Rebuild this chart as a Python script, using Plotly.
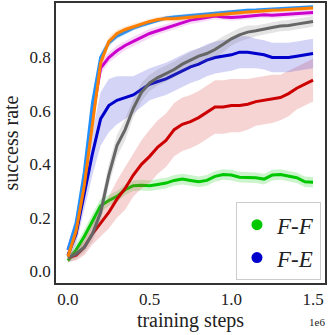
import plotly.graph_objects as go

# training steps (in millions)
steps = [0.0, 0.05, 0.1, 0.15, 0.2, 0.25, 0.3, 0.35, 0.4, 0.45, 0.5, 0.55, 0.6, 0.65, 0.7, 0.75,
         0.8, 0.85, 0.9, 0.95, 1.0, 1.05, 1.1, 1.15, 1.2, 1.25, 1.3, 1.35, 1.4, 1.45, 1.5]

# mean success rate per run
sky = [0.08, 0.18, 0.37, 0.63, 0.80, 0.855, 0.88, 0.895, 0.91, 0.92, 0.93, 0.94, 0.948, 0.952, 0.955, 0.958,
       0.96, 0.963, 0.966, 0.968, 0.972, 0.975, 0.977, 0.978, 0.98, 0.982, 0.984, 0.985, 0.987, 0.988, 0.99]
orange = [0.055, 0.15, 0.32, 0.56, 0.78, 0.86, 0.89, 0.905, 0.915, 0.925, 0.935, 0.942, 0.945, 0.945, 0.948, 0.95,
          0.952, 0.955, 0.96, 0.963, 0.966, 0.968, 0.97, 0.972, 0.975, 0.977, 0.978, 0.98, 0.982, 0.984, 0.985]
magenta = [0.08, 0.17, 0.34, 0.58, 0.76, 0.80, 0.825, 0.845, 0.86, 0.875, 0.89, 0.9, 0.91, 0.92, 0.93, 0.94,
           0.945, 0.95, 0.955, 0.952, 0.95, 0.952, 0.955, 0.958, 0.96, 0.958, 0.96, 0.963, 0.965, 0.967, 0.968]
fe = [0.06, 0.14, 0.29, 0.44, 0.57, 0.62, 0.64, 0.65, 0.66, 0.68, 0.70, 0.71, 0.72, 0.735, 0.75, 0.765,
      0.775, 0.79, 0.80, 0.805, 0.81, 0.82, 0.82, 0.815, 0.81, 0.80, 0.80, 0.80, 0.805, 0.81, 0.815]
gray = [0.05, 0.065, 0.09, 0.14, 0.22, 0.36, 0.47, 0.53, 0.61, 0.67, 0.705, 0.725, 0.74, 0.755, 0.775, 0.79,
        0.805, 0.815, 0.83, 0.85, 0.87, 0.885, 0.895, 0.9, 0.905, 0.912, 0.918, 0.92, 0.925, 0.93, 0.935]
red = [0.05, 0.06, 0.09, 0.14, 0.18, 0.22, 0.27, 0.31, 0.36, 0.40, 0.43, 0.465, 0.49, 0.53, 0.55, 0.56,
       0.575, 0.595, 0.615, 0.615, 0.62, 0.62, 0.625, 0.635, 0.64, 0.645, 0.65, 0.665, 0.685, 0.70, 0.715]
ff = [0.04, 0.08, 0.13, 0.19, 0.245, 0.265, 0.28, 0.305, 0.32, 0.322, 0.32, 0.325, 0.33, 0.34, 0.345, 0.34,
      0.335, 0.34, 0.355, 0.362, 0.36, 0.352, 0.35, 0.35, 0.345, 0.36, 0.362, 0.355, 0.35, 0.335, 0.333]

# half width of the shaded band
sky_sd = [0.02, 0.03, 0.03, 0.03, 0.02, 0.015, 0.012, 0.01, 0.01, 0.01, 0.01, 0.008, 0.008, 0.008, 0.008, 0.008,
          0.008, 0.008, 0.008, 0.008, 0.007, 0.007, 0.007, 0.007, 0.007, 0.006, 0.006, 0.006, 0.006, 0.006, 0.006]
orange_sd = [0.02, 0.03, 0.03, 0.03, 0.025, 0.02, 0.015, 0.012, 0.012, 0.01, 0.01, 0.01, 0.01, 0.01, 0.01, 0.01,
             0.01, 0.01, 0.01, 0.01, 0.01, 0.008, 0.008, 0.008, 0.008, 0.008, 0.008, 0.008, 0.008, 0.008, 0.008]
magenta_sd = [0.02, 0.03, 0.03, 0.03, 0.025, 0.02, 0.02, 0.018, 0.018, 0.018, 0.018, 0.015, 0.015, 0.015, 0.015, 0.015,
              0.015, 0.012, 0.012, 0.012, 0.012, 0.012, 0.012, 0.012, 0.012, 0.012, 0.012, 0.012, 0.012, 0.012, 0.012]
fe_sd = [0.02, 0.04, 0.06, 0.08, 0.1, 0.1, 0.09, 0.08, 0.07, 0.065, 0.06, 0.06, 0.06, 0.06, 0.06, 0.06,
         0.06, 0.06, 0.06, 0.06, 0.06, 0.06, 0.06, 0.055, 0.055, 0.055, 0.055, 0.055, 0.055, 0.055, 0.055]
gray_sd = [0.015, 0.02, 0.02, 0.03, 0.035, 0.04, 0.04, 0.04, 0.035, 0.035, 0.03, 0.03, 0.03, 0.03, 0.03, 0.03,
           0.03, 0.03, 0.03, 0.03, 0.025, 0.025, 0.025, 0.02, 0.02, 0.02, 0.02, 0.02, 0.02, 0.02, 0.02]
red_sd = [0.015, 0.02, 0.03, 0.04, 0.05, 0.06, 0.07, 0.08, 0.08, 0.09, 0.1, 0.1, 0.1, 0.1, 0.1, 0.1,
          0.1, 0.1, 0.1, 0.1, 0.1, 0.1, 0.095, 0.09, 0.09, 0.09, 0.085, 0.085, 0.08, 0.08, 0.08]
ff_sd = [0.01, 0.02, 0.025, 0.025, 0.025, 0.02, 0.02, 0.02, 0.02, 0.02, 0.02, 0.02, 0.02, 0.02, 0.02, 0.02,
         0.02, 0.02, 0.02, 0.02, 0.02, 0.02, 0.02, 0.02, 0.02, 0.02, 0.02, 0.02, 0.02, 0.02, 0.02]

runs = [
    (ff, ff_sd, '#00c800', 'rgba(0,200,0,0.2)'),
    (red, red_sd, '#cc0000', 'rgba(220,60,60,0.22)'),
    (fe, fe_sd, '#0000cc', 'rgba(60,60,220,0.22)'),
    (gray, gray_sd, '#666666', 'rgba(120,120,120,0.2)'),
    (magenta, magenta_sd, '#cc00cc', 'rgba(204,0,204,0.15)'),
    (sky, sky_sd, '#1e90ff', 'rgba(30,144,255,0.15)'),
    (orange, orange_sd, '#ff8000', 'rgba(255,128,0,0.15)'),
]

FONT = 'Liberation Serif'
x = [s * 1e6 for s in steps]

fig = go.Figure()
for mean, sd, color, fill in runs:
    upper = [m + d for m, d in zip(mean, sd)]
    lower = [m - d for m, d in zip(mean, sd)]
    fig.add_trace(go.Scatter(x=x + x[::-1], y=upper + lower[::-1], fill='toself',
                             fillcolor=fill, line=dict(width=0), mode='lines',
                             showlegend=False, hoverinfo='skip'))
    fig.add_trace(go.Scatter(x=x, y=mean, mode='lines', line=dict(color=color, width=3),
                             showlegend=False))

# legend entries
fig.add_trace(go.Scatter(x=[None], y=[None], mode='markers', name='<i>F-F</i>',
                         marker=dict(color='#00c800', size=11)))
fig.add_trace(go.Scatter(x=[None], y=[None], mode='markers', name='<i>F-E</i>',
                         marker=dict(color='#0000cc', size=11)))

fig.update_layout(
    width=328, height=335,
    margin=dict(l=56, r=2, t=1, b=52),
    plot_bgcolor='white', paper_bgcolor='white',
    font=dict(family=FONT, size=17, color='#222'),
    xaxis=dict(range=[-0.073e6, 1.573e6], tickvals=[0, 5e5, 1e6, 1.5e6],
               ticktext=['0.0', '0.5', '1.0', '1.5'], showgrid=False, zeroline=False,
               showline=True, linecolor='#333', linewidth=1.5, mirror=True, ticks='',
               title=dict(text='training steps', standoff=4)),
    yaxis=dict(range=[-0.044, 1.004], tickvals=[0, 0.2, 0.4, 0.6, 0.8], tickformat='.1f',
               showgrid=False, zeroline=False, showline=True, linecolor='#333', linewidth=1.5,
               mirror=True, ticks='', title=dict(text='success rate', standoff=6)),
    legend=dict(x=0.985, y=0.01, xanchor='right', yanchor='bottom',
                font=dict(family=FONT, size=23, color='#222'),
                bordercolor='#cccccc', borderwidth=1, bgcolor='rgba(255,255,255,0.8)'),
    annotations=[dict(text='1e6', x=0.97, y=-0.14, xref='paper', yref='paper',
                      showarrow=False, font=dict(size=11, family=FONT),
                      xanchor='center', yanchor='middle')],
)

fig.write_html("out.html", config={'displayModeBar': False},
               post_script="document.body.style.margin='0';")
